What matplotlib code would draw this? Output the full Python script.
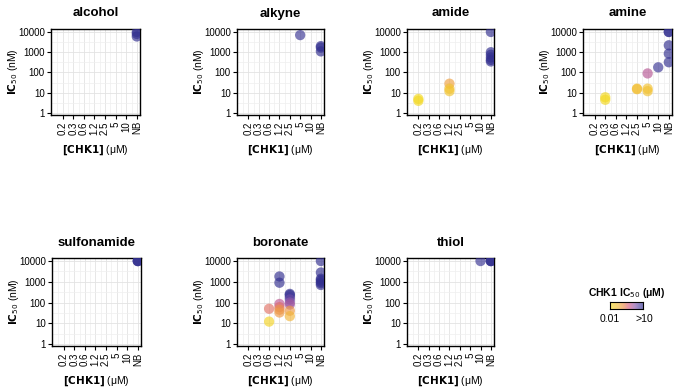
import numpy as np
import matplotlib
matplotlib.use('Agg')
import matplotlib.pyplot as plt
from matplotlib.colors import LinearSegmentedColormap, LogNorm
from matplotlib.ticker import FixedLocator, NullFormatter

plt.rcParams['font.family'] = ['Liberation Sans', 'DejaVu Sans']

categories = ['0.2', '0.3', '0.6', '1.2', '2.5', '5', '10', 'NB']

# per panel: x category, IC50 (nM), CHK1 IC50 (uM) used for colour
alcohol_x = ['NB', 'NB', 'NB']
alcohol_y = [10000, 8000, 6000]
alcohol_c = [10, 10, 10]

alkyne_x = ['5', 'NB', 'NB', 'NB']
alkyne_y = [7000, 2000, 1700, 1100]
alkyne_c = [8, 10, 10, 10]

amide_x = ['0.2', '0.2', '1.2', '1.2', '1.2', 'NB', 'NB', 'NB', 'NB', 'NB', 'NB']
amide_y = [5, 4, 28, 16, 12, 10000, 1000, 750, 550, 420, 350]
amide_c = [0.012, 0.012, 0.1, 0.035, 0.03, 10, 10, 10, 10, 10, 10]

amine_x = ['0.3', '0.3', '2.5', '2.5', '5', '5', '5', '10', 'NB', 'NB', 'NB', 'NB', 'NB']
amine_y = [6, 4.5, 16, 15, 90, 16, 12, 180, 10000, 10000, 2200, 850, 320]
amine_c = [0.012, 0.012, 0.04, 0.04, 0.9, 0.035, 0.035, 8, 10, 10, 10, 10, 10]

sulfonamide_x = ['NB', 'NB', 'NB']
sulfonamide_y = [10000, 10000, 10000]
sulfonamide_c = [10, 10, 10]

boronate_x = ['0.6', '0.6', '1.2', '1.2', '1.2', '1.2', '1.2', '1.2',
              '2.5', '2.5', '2.5', '2.5', '2.5', '2.5', '2.5', '2.5',
              'NB', 'NB', 'NB', 'NB', 'NB', 'NB', 'NB']
boronate_y = [50, 12, 1800, 900, 85, 60, 45, 33,
              260, 230, 180, 140, 100, 80, 40, 22,
              10000, 2800, 1400, 1200, 1000, 850, 700]
boronate_c = [0.3, 0.015, 10, 10, 0.8, 0.35, 0.15, 0.12,
              10, 10, 6, 3, 1.8, 1.2, 0.12, 0.06,
              10, 10, 10, 10, 10, 10, 10]

thiol_x = ['10', 'NB', 'NB', 'NB']
thiol_y = [10000, 10000, 10000, 10000]
thiol_c = [8, 10, 10, 10]

panels = [
    ('alcohol', alcohol_x, alcohol_y, alcohol_c),
    ('alkyne', alkyne_x, alkyne_y, alkyne_c),
    ('amide', amide_x, amide_y, amide_c),
    ('amine', amine_x, amine_y, amine_c),
    ('sulfonamide', sulfonamide_x, sulfonamide_y, sulfonamide_c),
    ('boronate', boronate_x, boronate_y, boronate_c),
    ('thiol', thiol_x, thiol_y, thiol_c),
]

cmap = LinearSegmentedColormap.from_list('chk1', [
    (0.0, '#F3DC22'), (0.25, '#F2B83A'), (0.42, '#EC8A4C'), (0.58, '#D45A86'),
    (0.75, '#8E58AA'), (0.9, '#4A40A0'), (1.0, '#33308F')])
norm = LogNorm(0.01, 10)

W, H = 697, 390
fig = plt.figure(figsize=(W / 100, H / 100), dpi=100)

# pixel boxes (left, top, width, height)
boxes = [(51, 29, 89, 86), (237, 29, 87, 86), (407, 29, 87, 86), (583, 29, 89, 86),
         (52, 258, 89, 88), (237, 258, 87, 88), (407, 258, 87, 88)]

for (name, xs, ys, cs), (l, t, w, h) in zip(panels, boxes):
    ax = fig.add_axes([l / W, 1 - (t + h) / H, w / W, h / H])
    xi = [categories.index(v) for v in xs]
    ax.scatter(xi, ys, c=cs, cmap=cmap, norm=norm, s=55, alpha=0.66,
               edgecolors='none', zorder=3)
    ax.set_yscale('log')
    ax.set_ylim(0.8, 14000)
    ax.set_xlim(-1.1, 7.3)
    ax.yaxis.set_major_locator(FixedLocator([1, 10, 100, 1000, 10000]))
    ax.set_yticklabels(['1', '10', '100', '1000', '10000'])
    ax.yaxis.set_minor_locator(FixedLocator([10 ** (k + 0.5) for k in range(-1, 5)]))
    ax.yaxis.set_minor_formatter(NullFormatter())
    ax.set_xticks(range(len(categories)))
    ax.set_xticklabels(categories, rotation=90)
    ax.xaxis.set_minor_locator(FixedLocator(np.arange(-0.5, 7.6, 1.0)))
    ax.grid(which='major', color='#E3E3E3', lw=0.6, zorder=0)
    ax.grid(which='minor', color='#EFEFEF', lw=0.5, zorder=0)
    ax.tick_params(which='minor', length=0)
    ax.tick_params(which='major', labelsize=7, length=3, width=0.8, pad=1.5,
                   color='black')
    for sp in ax.spines.values():
        sp.set_linewidth(1.0)
    ax.set_axisbelow(True)
    ax.set_title(name, fontsize=9.5, fontweight='bold', pad=9)
    ax.set_ylabel(r'$\mathbf{IC}_{50}$ (nM)', fontsize=7.5)
    ax.yaxis.set_label_coords(-31 / w, 0.5)
    ax.set_xlabel(r'$\mathbf{[CHK1]}$ (μM)', fontsize=7.5, labelpad=6)

# colour legend
cax = fig.add_axes([610 / W, 1 - 309 / H, 33 / W, 7 / H])
grad = np.linspace(0, 1, 256).reshape(1, -1)
cax.imshow(grad, cmap=cmap, aspect='auto', alpha=0.66, extent=[0, 1, 0, 1])
cax.set_xticks([])
cax.set_yticks([])
for sp in cax.spines.values():
    sp.set_linewidth(0.8)
fig.text(627 / W, 1 - 293 / H, r'CHK1 IC$_{50}$ (μM)', fontsize=7.5,
         fontweight='bold', ha='center', va='center')
fig.text(610 / W, 1 - 319 / H, '0.01', fontsize=7.5, ha='center', va='center')
fig.text(644 / W, 1 - 319 / H, '>10', fontsize=7.5, ha='center', va='center')

fig.savefig('out.png', dpi=100)
